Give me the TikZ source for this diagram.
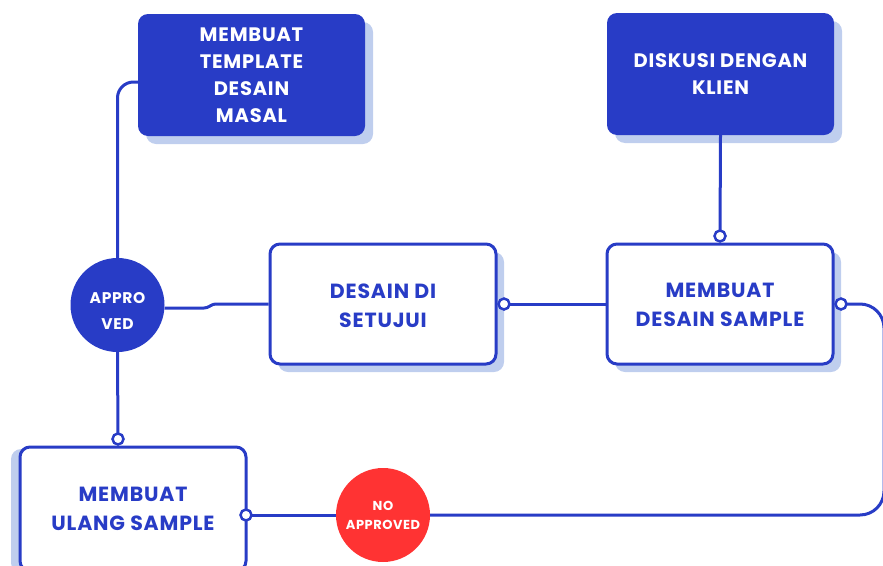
\documentclass[tikz,border=0pt]{standalone}
\usepackage{fontspec}
\setmainfont{Poppins}
\newfontfamily\widefont{Poppins}[LetterSpace=4]
\definecolor{mblue}{HTML}{283CC6}
\definecolor{shade}{HTML}{BFCEEE}
\definecolor{mred}{HTML}{FF3333}
\newcommand{\lowered}[3]{\raisebox{#1}[0pt][0pt]{\parbox{#2}{\centering #3}}}
\begin{document}
\begin{tikzpicture}[x=1pt,y=-1pt,
  conn/.style={draw=mblue,line width=3pt},
  solidbox/.style={rectangle,rounded corners=10pt,fill=mblue,text=white,
    minimum width=227pt,minimum height=122pt,align=center,inner sep=0pt,
    font=\widefont\bfseries\fontsize{19.5}{27}\selectfont,
    preaction={fill=shade,transform canvas={shift={(8pt,-8pt)}}}},
  linebox/.style={rectangle,rounded corners=10pt,draw=mblue,line width=3pt,fill=white,text=mblue,
    minimum width=226pt,minimum height=120pt,align=center,inner sep=0pt,
    font=\widefont\bfseries\fontsize{20.5}{29}\selectfont},
  shadowR/.style={preaction={fill=shade,transform canvas={shift={(8pt,-8pt)}}}},
  shadowL/.style={preaction={fill=shade,transform canvas={shift={(-9pt,-2pt)}}}},
  bigdot/.style={circle,minimum size=94pt,inner sep=0pt,align=center,text=white},
  smalldot/.style={circle,draw=mblue,line width=2.5pt,fill=white,minimum size=11pt,inner sep=0pt}]
\useasboundingbox (0,0) rectangle (883,565);

% boxes
\node[solidbox] (Template) at (251.5,75) {MEMBUAT\\TEMPLATE\\DESAIN\\MASAL};
\node[solidbox] (Diskusi) at (720.5,74) {DISKUSI DENGAN\\KLIEN};
\node[linebox,shadowR] (DesainDi) at (383,304) {\lowered{-6.5pt}{220pt}{DESAIN DI\\SETUJUI}};
\node[linebox,shadowR] (Sample) at (720,304) {\lowered{-6.5pt}{220pt}{MEMBUAT\\DESAIN SAMPLE}};
\node[linebox,shadowL,minimum height=124pt] (Ulang) at (133,509) {MEMBUAT\\ULANG SAMPLE};

% circles
\node[bigdot,fill=mblue,font=\widefont\bfseries\fontsize{15.5}{26}\selectfont] (Approved) at (117.5,305) {\lowered{-10pt}{90pt}{APPRO\\VED}};
\node[bigdot,fill=mred,font=\widefont\bfseries\fontsize{13}{19}\selectfont] (NoApp) at (383,515) {NO\\APPROVED};

% dot positions
\coordinate (dU) at (118,439);
\coordinate (dD) at (504,304);
\coordinate (dS) at (720,236);
\coordinate (dR) at (841,304);
\coordinate (dUR) at (246,515);
\coordinate (far) at (884,304);

% connectors
\draw[conn,rounded corners=16pt] ([yshift=-7pt]Template.west) -| (Approved.north);
\draw[conn] (Approved.south) -- (dU);
\draw[conn,rounded corners=3pt] ([yshift=-3pt]Approved.east) -- (207,308) -- (213,304) -- (DesainDi.west);
\draw[conn] (dD) -- (Sample.west);
\draw[conn] (Diskusi.south) -- (dS);
\draw[conn,rounded corners=24pt] (dR) -- (far) |- (NoApp.east);
\draw[conn] (NoApp.west) -- (dUR);

% small dots
\node[smalldot] (mU) at (dU) {};
\node[smalldot] (mD) at (dD) {};
\node[smalldot] (mS) at (dS) {};
\node[smalldot] (mR) at (dR) {};
\node[smalldot] (mUR) at (dUR) {};
\end{tikzpicture}
\end{document}
